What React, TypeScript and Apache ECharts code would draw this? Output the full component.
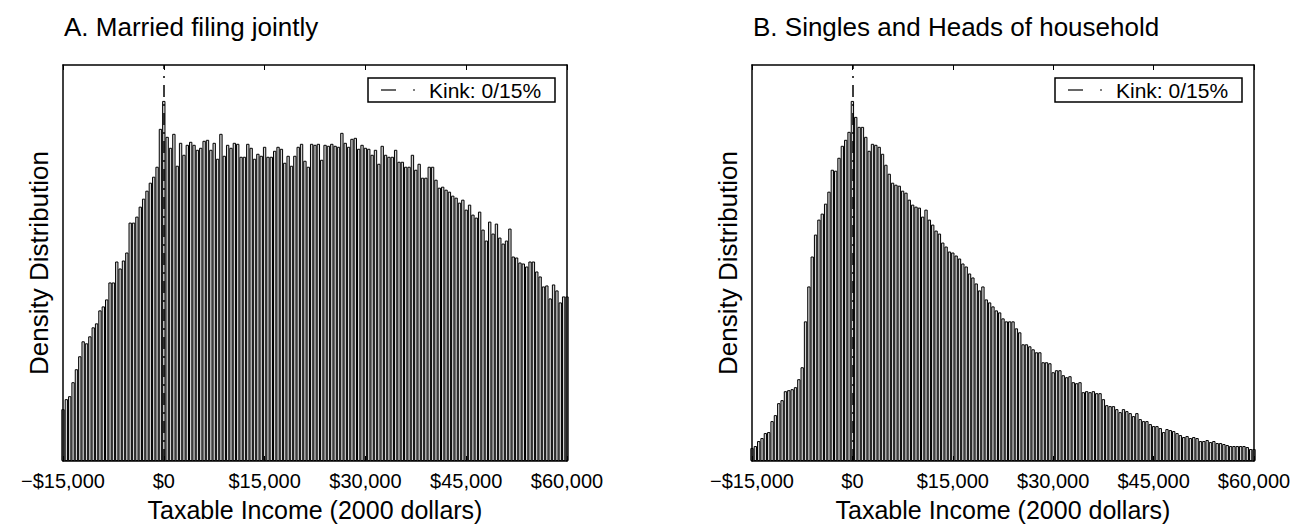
import React, { useEffect, useRef } from 'react';
import * as echarts from 'echarts';

// Bin layout: bins of $500 centred from -$15,000 to $60,000
const BIN_START = -15000;
const BIN_WIDTH = 500;
const X_MIN = -15000;
const X_MAX = 60000;
const X_INTERVAL = 15000;
const Y_MAX = 397;
const KINK_X = 0;

const panelTitles = ['A. Married filing jointly', 'B. Singles and Heads of household'];
const legendLabel = 'Kink: 0/15%';
const xAxisTitle = 'Taxable Income (2000 dollars)';
const yAxisTitle = 'Density Distribution';

// Panel A: Married filing jointly (relative density, arbitrary units)
const marriedDensity = [
  52, 62, 65, 79, 92, 105, 120, 118, 125, 134,
  138, 151, 155, 162, 179, 179, 200, 193, 201, 209,
  239, 239, 245, 255, 263, 271, 279, 285, 295, 333,
  361, 325, 314, 328, 296, 319, 307, 317, 320, 317,
  312, 314, 321, 322, 312, 319, 303, 328, 306, 317,
  314, 319, 318, 305, 305, 318, 314, 303, 308, 306,
  315, 305, 305, 311, 315, 313, 299, 306, 296, 306,
  315, 318, 301, 295, 318, 317, 318, 302, 317, 316,
  318, 316, 315, 329, 319, 315, 323, 324, 313, 317,
  314, 313, 307, 312, 298, 316, 307, 305, 305, 312,
  300, 300, 295, 295, 307, 292, 298, 284, 284, 295,
  295, 282, 274, 275, 272, 270, 266, 264, 259, 262,
  252, 257, 247, 244, 250, 232, 221, 240, 228, 238,
  224, 218, 221, 233, 205, 204, 199, 198, 195, 200,
  200, 190, 185, 175, 176, 163, 177, 171, 159, 165,
  165,
];

// Panel B: Singles and Heads of household (relative density, arbitrary units)
const singlesDensity = [
  13, 15, 20, 23, 28, 29, 40, 46, 58, 61,
  70, 71, 72, 74, 82, 94, 140, 175, 205, 227,
  242, 248, 258, 270, 292, 291, 304, 316, 322, 330,
  361, 345, 335, 335, 325, 311, 318, 317, 315, 308,
  297, 288, 279, 277, 276, 271, 269, 262, 257, 255,
  254, 245, 252, 242, 237, 231, 228, 219, 215, 210,
  209, 206, 203, 198, 195, 188, 184, 178, 171, 175,
  162, 159, 155, 151, 149, 143, 140, 140, 140, 133,
  129, 117, 117, 115, 112, 109, 109, 99, 99, 98,
  89, 91, 91, 86, 84, 85, 79, 78, 79, 69,
  70, 69, 70, 68, 68, 62, 56, 55, 55, 52,
  49, 52, 50, 48, 45, 48, 42, 40, 40, 37,
  35, 35, 33, 29, 32, 31, 30, 28, 26, 24,
  25, 23, 24, 23, 20, 20, 21, 19, 20, 18,
  18, 17, 16, 15, 15, 15, 15, 15, 14, 12,
  12,
];

const FONT = '"Liberation Sans", Arial, Helvetica, sans-serif';

const fmtMoney = (v: number) => {
  const s = Math.abs(v).toString().replace(/\B(?=(\d{3})+(?!\d))/g, ',');
  return (v < 0 ? '\u2212$' : '$') + s;
};

const grids = [
  { left: 63, top: 65, width: 504, height: 397 },
  { left: 752, top: 65, width: 502, height: 397 },
];

function buildOption() {
  const xAxis: any[] = [];
  const yAxis: any[] = [];
  const series: any[] = [];
  const graphic: any[] = [];
  const datasets = [marriedDensity, singlesDensity];

  grids.forEach((g, gi) => {
    const lineStyle = { color: '#000', width: 1.5 };
    xAxis.push({
      type: 'value', gridIndex: gi, position: 'bottom', min: X_MIN, max: X_MAX, interval: X_INTERVAL, z: 5,
      axisLine: { show: true, onZero: false, lineStyle },
      axisTick: { show: true, inside: true, length: 5, lineStyle: { color: '#000', width: 1 } },
      axisLabel: { show: true, margin: 10, color: '#000', fontSize: 20, fontFamily: FONT, formatter: fmtMoney },
      splitLine: { show: false },
      name: xAxisTitle, nameLocation: 'middle', nameGap: 36,
      nameTextStyle: { color: '#000', fontSize: 25, fontFamily: FONT },
    });
    xAxis.push({
      type: 'value', gridIndex: gi, position: 'top', min: X_MIN, max: X_MAX, interval: X_INTERVAL, z: 5,
      axisLine: { show: true, onZero: false, lineStyle },
      axisTick: { show: true, inside: true, length: 5, lineStyle: { color: '#000', width: 1 } },
      axisLabel: { show: false },
      splitLine: { show: false },
    });
    yAxis.push({
      type: 'value', gridIndex: gi, position: 'left', min: 0, max: Y_MAX, z: 5,
      axisLine: { show: true, onZero: false, lineStyle },
      axisTick: { show: false }, axisLabel: { show: false }, splitLine: { show: false },
      name: yAxisTitle, nameLocation: 'middle', nameGap: 11,
      nameTextStyle: { color: '#000', fontSize: 26, fontFamily: FONT },
    });
    yAxis.push({
      type: 'value', gridIndex: gi, position: 'right', min: 0, max: Y_MAX, z: 5,
      axisLine: { show: true, onZero: false, lineStyle },
      axisTick: { show: false }, axisLabel: { show: false }, splitLine: { show: false },
    });

    const data = datasets[gi].map((v, i) => [BIN_START + i * BIN_WIDTH, v]);
    series.push({
      type: 'bar', xAxisIndex: gi * 2, yAxisIndex: gi * 2, data,
      barWidth: g.width / ((X_MAX - X_MIN) / BIN_WIDTH),
      clip: true,
      itemStyle: { color: '#d4d4d4', borderColor: '#000', borderWidth: 1 },
      emphasis: { disabled: true },
      markLine: {
        silent: true, symbol: 'none', animation: false,
        label: { show: false },
        lineStyle: { color: '#000', width: 1.5, type: [12, 7, 2, 7] },
        data: [{ xAxis: KINK_X }],
      },
    });

    // panel title
    graphic.push({
      type: 'text', silent: true,
      style: { text: panelTitles[gi], x: g.left + 1, y: 27, fill: '#000', font: `26px ${FONT}`, verticalAlign: 'middle', align: 'left' },
    });
    // legend box
    const boxRight = g.left + g.width - 12;
    const boxW = 187;
    const boxL = boxRight - boxW;
    graphic.push({
      type: 'rect', silent: true, z: 10,
      shape: { x: boxL, y: 78, width: boxW, height: 24 },
      style: { fill: '#fff', stroke: '#000', lineWidth: 1.5 },
    });
    graphic.push({
      type: 'line', silent: true, z: 11,
      shape: { x1: boxL + 13, y1: 90, x2: boxL + 28, y2: 90 },
      style: { stroke: '#000', lineWidth: 1.2 },
    });
    graphic.push({
      type: 'line', silent: true, z: 11,
      shape: { x1: boxL + 45, y1: 90, x2: boxL + 47, y2: 90 },
      style: { stroke: '#000', lineWidth: 1.2 },
    });
    graphic.push({
      type: 'text', silent: true, z: 11,
      style: { text: legendLabel, x: boxL + 61, y: 90, fill: '#000', font: `21px ${FONT}`, verticalAlign: 'middle', align: 'left' },
    });
  });

  return {
    animation: false,
    backgroundColor: '#fff',
    grid: grids.map((g) => ({ ...g, containLabel: false })),
    xAxis, yAxis, series, graphic,
  };
}

export default function App() {
  const ref = useRef<HTMLDivElement>(null);
  useEffect(() => {
    if (!ref.current) return;
    const chart = echarts.init(ref.current, null, { renderer: 'svg' });
    chart.setOption(buildOption() as any);
    return () => chart.dispose();
  }, []);
  return <div ref={ref} style={{ position: 'absolute', left: 0, top: 0, width: 1296, height: 527 }} />;
}
